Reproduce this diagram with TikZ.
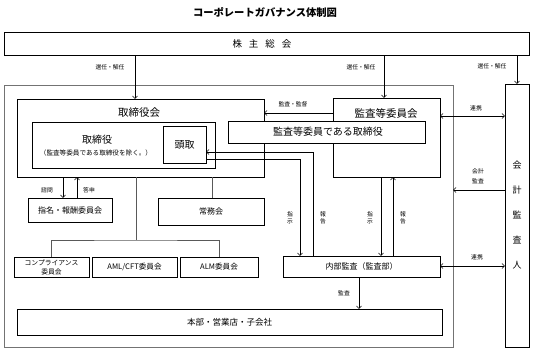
\documentclass[tikz,border=0pt]{standalone}
\usepackage{fontspec}
\setmainfont{Noto Sans CJK JP}
\usetikzlibrary{arrows.meta}
\begin{document}
\begin{tikzpicture}[x=1pt,y=-1pt,
  bx/.style={draw, line width=0.6pt, inner sep=0pt, outer sep=0pt, fill=white},
  ln/.style={line width=0.6pt},
  tip/.tip={Straight Barb[length=2.6pt,width=5pt]},
  arr/.style={ln, -tip},
  darr/.style={ln, tip-tip},
  tree/.style={line width=0.5pt, black!65},
  lbl/.style={inner sep=0pt, font=\fontsize{5.8}{7.5}\selectfont, align=center},
  txt/.style={inner sep=0pt, align=center},
]
\useasboundingbox (0,0) rectangle (533,351);

% title
\node[txt, font=\fontsize{10.3}{12}\selectfont\bfseries] (title) at (265,12) {コーポレートガバナンス体制図};

% boxes
\node[draw=black!55, line width=0.6pt, inner sep=0pt, outer sep=0pt, minimum width=449pt, minimum height=262pt] (outer) at (228.5,216) {};
\node[bx, minimum width=525pt, minimum height=23pt] (kabu) at (266.5,43.5) {};
\node[txt, font=\fontsize{9.5}{11}\selectfont] (kabut) at (262,43.5) {株\hspace{7pt}主\hspace{7pt}総\hspace{7pt}会};

\node[bx, minimum width=247pt, minimum height=78pt] (tk) at (140.5,138) {};
\node[txt, font=\fontsize{10.5}{12}\selectfont] (tkt) at (139,113) {取締役会};
\node[bx, minimum width=183pt, minimum height=46pt] (tr) at (123.5,145) {};
\node[txt, font=\fontsize{10}{12}\selectfont] (trt) at (97,139.5) {取締役};
\node[txt, font=\fontsize{6.6}{8}\selectfont] (trs) at (96,152.5) {（監査等委員である取締役を除く。）};
\node[bx, minimum width=43pt, minimum height=37pt, font=\fontsize{10}{12}\selectfont] (to) at (184.5,144.5) {頭取};

\node[bx, minimum width=107pt, minimum height=79pt] (kk) at (386.5,137.5) {};
\node[txt, font=\fontsize{10.5}{12}\selectfont] (kkt) at (386,113.5) {監査等委員会};
\node[bx, minimum width=197pt, minimum height=22pt] (kt) at (326.5,132) {};
\node[txt, font=\fontsize{10}{12}\selectfont] (ktt) at (328,132) {監査等委員である取締役};

\node[bx, minimum width=84pt, minimum height=24pt, font=\fontsize{8}{10}\selectfont] (sh) at (70,210) {指名・報酬委員会};
\node[bx, minimum width=106pt, minimum height=27pt, font=\fontsize{8}{10}\selectfont] (jm) at (211,211.5) {常務会};

\node[bx, minimum width=75pt, minimum height=20pt, align=center, font=\fontsize{6.8}{9}\selectfont] (cp) at (51.5,267) {コンプライアンス\\委員会};
\node[bx, minimum width=85pt, minimum height=20pt, font=\fontsize{7.6}{9}\selectfont] (aml) at (134.5,267) {AML/CFT委員会};
\node[bx, minimum width=78pt, minimum height=20pt, font=\fontsize{7.6}{9}\selectfont] (alm) at (219,267) {ALM委員会};

\node[bx, minimum width=157pt, minimum height=21pt, font=\fontsize{8}{10}\selectfont] (nb) at (361.5,266.5) {内部監査（監査部）};
\node[bx, minimum width=425pt, minimum height=26pt, font=\fontsize{8.5}{10}\selectfont] (hb) at (229.5,322) {本部・営業店・子会社};

\node[bx, minimum width=24pt, minimum height=263pt] (ka) at (517,215.5) {};
\node[txt, font=\fontsize{9}{25}\selectfont] (kat) at (517,215) {会\\計\\監\\査\\人};

% connectors from shareholders
\draw[arr] (135,0 |- kabu.south) -- (135,0 |- tk.north);
\draw[arr] (384,0 |- kabu.south) -- (384,0 |- kk.north);
\draw[arr] (517,0 |- kabu.south) -- (ka.north);
\node[lbl] (l1) at (110,67) {選任・解任};
\node[lbl] (l2) at (361,67) {選任・解任};
\node[lbl] (l3) at (492,66) {選任・解任};

% audit committee
\draw[arr] (kk.west |- 0,113) -- (tk.east |- 0,113);
\node[lbl] (l4) at (293,104.5) {監査・監督};
\draw[darr] (kk.east |- 0,116) -- (ka.west |- 0,116);
\node[lbl] (l5) at (476,108) {連携};
\draw[arr] (ka.west |- 0,190) -- (outer.east |- 0,190);
\node[lbl, font=\fontsize{5.8}{9.5}\selectfont] (l6) at (478,176) {会計\\監査};

% president <-> internal audit
\draw[arr] (to.east |- 0,159) -| (300,0 |- nb.north);
\draw[arr] (313,0 |- nb.north) |- (to.east |- 0,152);
\node[lbl] (l7) at (290,218) {指\\示};
\node[lbl] (l8) at (323,218) {報\\告};

% audit committee <-> internal audit
\draw[arr] (381,0 |- kk.south) -- (381,0 |- nb.north);
\draw[arr] (393,0 |- nb.north) -- (393,0 |- kk.south);
\node[lbl] (l9) at (370,218) {指\\示};
\node[lbl] (l10) at (403,218) {報\\告};

\draw[darr] (nb.east |- 0,266) -- (ka.west |- 0,266);
\node[lbl] (l11) at (477,257) {連携};

\draw[arr] (359,0 |- nb.south) -- (359,0 |- hb.north);
\node[lbl] (l12) at (344,293) {監査};

% nomination committee
\draw[arr] (63,0 |- tk.south) -- (63,0 |- sh.north);
\draw[arr] (77,0 |- sh.north) -- (77,0 |- tk.south);
\node[lbl] (l13) at (47,190) {諮問};
\node[lbl] (l14) at (89,190) {答申};

% tree
\coordinate (jn) at (136,240);
\draw[tree] (212,0 |- tk.south) -- (212,0 |- jm.north);
\draw[tree] (136,0 |- tk.south) -- (jn);
\draw[tree] (cp.north) |- (jn) -| (alm.north);
\end{tikzpicture}
\end{document}
